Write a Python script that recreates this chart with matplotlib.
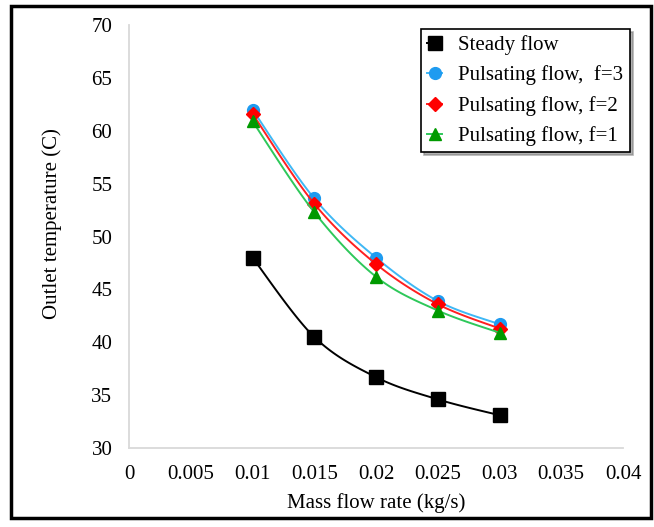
import numpy as np
import matplotlib
matplotlib.use("Agg")
import matplotlib.pyplot as plt
from matplotlib.patches import Rectangle

# data
mass_flow = [0.01, 0.015, 0.02, 0.025, 0.03]
steady = [48.0, 40.5, 36.7, 34.6, 33.1]
pulse_f3 = [62.0, 53.6, 48.0, 43.9, 41.7]
pulse_f2 = [61.6, 53.1, 47.4, 43.6, 41.3]
pulse_f1 = [60.9, 52.3, 46.2, 43.0, 40.9]
x_ticks = [0, 0.005, 0.01, 0.015, 0.02, 0.025, 0.03, 0.035, 0.04]
x_tick_labels = ["0", "0.005", "0.01", "0.015", "0.02", "0.025", "0.03", "0.035", "0.04"]
y_ticks = [30, 35, 40, 45, 50, 55, 60, 65, 70]


def smooth(x, y, n=30):
    # excel style smoothed line (bezier through the points)
    x = np.asarray(x, float)
    y = np.asarray(y, float)
    px = np.concatenate([[x[0]], x, [x[-1]]])
    py = np.concatenate([[y[0]], y, [y[-1]]])
    t = np.linspace(0, 1, n)[:, None]
    xs, ys = [], []
    for i in range(1, len(px) - 2):
        p0 = np.array([px[i - 1], py[i - 1]])
        p1 = np.array([px[i], py[i]])
        p2 = np.array([px[i + 1], py[i + 1]])
        p3 = np.array([px[i + 2], py[i + 2]])
        c1 = p1 + (p2 - p0) / 6
        c2 = p2 - (p3 - p1) / 6
        pts = ((1 - t) ** 3) * p1 + 3 * ((1 - t) ** 2) * t * c1 + 3 * (1 - t) * t ** 2 * c2 + t ** 3 * p2
        xs.append(pts[:, 0])
        ys.append(pts[:, 1])
    return np.concatenate(xs), np.concatenate(ys)


plt.rcParams['font.family'] = ['Liberation Serif', 'DejaVu Serif']
fs = 15

fig = plt.figure(figsize=(6.54, 5.27), dpi=100)
ax = fig.add_axes([129 / 654, 79 / 527, 494 / 654, 423 / 527])

series = [
    (steady, "Steady flow", "s", "black", "black", 9.5),
    (pulse_f3, "Pulsating flow,  f=3", "o", "#1e9bf0", "#3fb8f5", 8.5),
    (pulse_f2, "Pulsating flow, f=2", "D", "#ff0000", "#ff2020", 7),
    (pulse_f1, "Pulsating flow, f=1", "^", "#009a00", "#2ec85a", 8.5),
]

for vals, label, mk, mcol, lcol, ms in series:
    sx, sy = smooth(mass_flow, vals)
    ax.plot(sx, sy, color=lcol, lw=1.4)
    ax.plot(mass_flow, vals, linestyle="none", marker=mk, color=mcol, markersize=ms)
    ax.plot([], [], color=lcol, lw=1.4, marker=mk, markerfacecolor=mcol,
            markeredgecolor=mcol, markersize=ms, label=label)

ax.set_xlim(0, 0.04)
ax.set_ylim(30, 70)
ax.set_xticks(x_ticks)
ax.set_xticklabels(x_tick_labels)
ax.set_yticks(y_ticks)
ax.tick_params(length=0, labelsize=fs)
ax.tick_params(axis="x", pad=12)
ax.tick_params(axis="y", pad=12)
for s in ["top", "right"]:
    ax.spines[s].set_visible(False)
for s in ["left", "bottom"]:
    ax.spines[s].set_color("#d9d9d9")
    ax.spines[s].set_linewidth(1.3)

fig.text(376 / 654, 1 - 503 / 527, "Mass flow rate (kg/s)", fontsize=fs,
         ha="center", va="center")
fig.text(52 / 654, 1 - 224 / 527, "Outlet temperature (C)", fontsize=fs,
         ha="center", va="center", rotation=90)

leg = ax.legend(loc="upper left", bbox_to_anchor=(421 / 654, 1 - 29 / 527),
                bbox_transform=fig.transFigure, borderaxespad=0, fontsize=fs,
                handlelength=0.7, borderpad=0.3, handletextpad=0.8,
                labelspacing=0.5, fancybox=False, framealpha=1,
                shadow={"ox": 2, "oy": -2, "color": "#808080", "alpha": 0.6})
leg.get_frame().set_edgecolor("black")
leg.get_frame().set_linewidth(1.2)

# outer frame round the whole picture
fig.patches.append(Rectangle((11 / 654, 1 - 518 / 527), 640 / 654, 512 / 527,
                             transform=fig.transFigure, fill=False,
                             edgecolor="black", linewidth=2.5))

fig.savefig("out.png", dpi=100)
